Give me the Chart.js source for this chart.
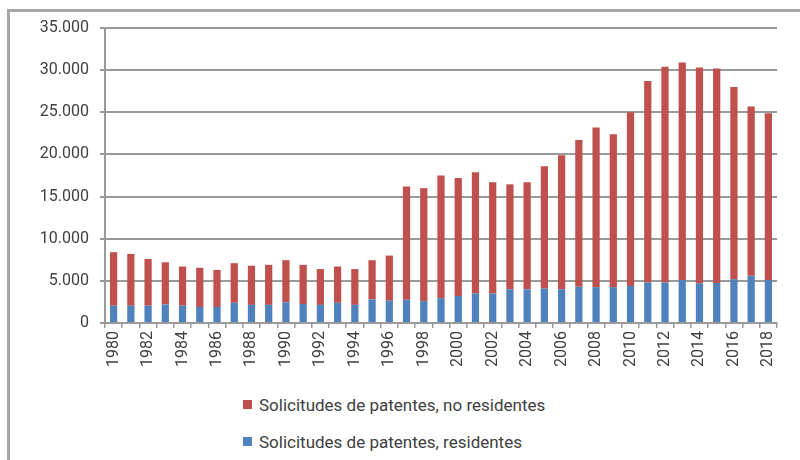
<!DOCTYPE html>
<html lang="es">
<head>
<meta charset="UTF-8">
<title>Solicitudes de patentes</title>
<script src="https://cdn.jsdelivr.net/npm/chart.js@4.4.0/dist/chart.umd.min.js"></script>
<style>
  body { margin: 0; background: #fff; width: 800px; height: 460px; overflow: hidden; position: relative; font-family: Roboto, sans-serif; }
  #frame { position: absolute; left: 7px; top: 9px; width: 820px; height: 480px; border-left: 3px solid #a6a6a6; border-top: 3px solid #a6a6a6; }
  #wrap { position: absolute; left: 0; top: 0; width: 800px; height: 385px; }
  #legend { position: absolute; left: 243px; top: 386px; font-size: 17px; color: #404040; }
  #legend div { height: 37px; display: flex; align-items: center; }
  #legend span.box { display: inline-block; width: 9px; height: 9px; margin-right: 7px; }
</style>
</head>
<body>
<div id="frame"></div>
<div id="wrap"><canvas id="chart" width="800" height="385"></canvas></div>
<div id="legend"></div>
<script>
// years on the x axis
const years = [1980, 1981, 1982, 1983, 1984, 1985, 1986, 1987, 1988, 1989,
  1990, 1991, 1992, 1993, 1994, 1995, 1996, 1997, 1998, 1999,
  2000, 2001, 2002, 2003, 2004, 2005, 2006, 2007, 2008, 2009,
  2010, 2011, 2012, 2013, 2014, 2015, 2016, 2017, 2018];

// patent applications, residents (bottom of each bar)
const residentes = [2050, 2050, 2050, 2200, 2050, 1900, 1900, 2400, 2150, 2150,
  2450, 2250, 2150, 2400, 2150, 2800, 2650, 2750, 2600, 2950,
  3200, 3500, 3500, 4000, 4000, 4100, 4000, 4300, 4250, 4250,
  4400, 4800, 4800, 5100, 4700, 4750, 5200, 5600, 5100];

// patent applications, non-residents (stacked on top)
const noResidentes = [6350, 6150, 5550, 5000, 4650, 4650, 4400, 4700, 4650, 4750,
  5000, 4650, 4250, 4300, 4250, 4650, 5350, 13450, 13400, 14550,
  14000, 14400, 13200, 12450, 12700, 14500, 15900, 17400, 18950, 18150,
  20600, 23900, 25600, 25800, 25600, 25450, 22800, 20100, 19800];

const yTicks = [0, 5000, 10000, 15000, 20000, 25000, 30000, 35000];

const RED = '#c0504d';
const BLUE = '#4f81bd';
const GRID = '#9a9a9a';
const TEXT = '#404040';

const fmt = v => String(v).replace(/\B(?=(\d{3})+(?!\d))/g, '.');

const chart = new Chart(document.getElementById('chart'), {
  type: 'bar',
  data: {
    labels: years,
    datasets: [
      { label: 'Solicitudes de patentes, residentes', data: residentes, backgroundColor: BLUE },
      { label: 'Solicitudes de patentes, no residentes', data: noResidentes, backgroundColor: RED }
    ]
  },
  options: {
    responsive: false,
    animation: false,
    layout: { padding: { left: 10, right: 23, top: 28, bottom: 0 } },
    datasets: { bar: { barPercentage: 0.42, categoryPercentage: 1 } },
    plugins: { legend: { display: false }, tooltip: { enabled: false } },
    scales: {
      x: {
        stacked: true,
        grid: { offset: true, drawOnChartArea: false, color: GRID, lineWidth: 1.5, tickLength: 5 },
        border: { color: GRID, width: 2 },
        ticks: {
          autoSkip: false, maxRotation: 90, minRotation: 90, padding: 3,
          color: TEXT, font: { family: 'Roboto', size: 16 },
          callback: (v, i) => (i % 2 === 0 ? String(years[i]) : '')
        },
        afterFit: s => { s.height = 62; }
      },
      y: {
        stacked: true,
        min: 0, max: 35000,
        afterBuildTicks: s => { s.ticks = yTicks.map(v => ({ value: v })); },
        grid: { color: GRID, lineWidth: 2, tickLength: 5 },
        border: { color: GRID, width: 2 },
        ticks: { color: TEXT, padding: 11, font: { family: 'Roboto', size: 16 }, callback: v => fmt(v) },
        afterFit: s => { s.width = 95; }
      }
    }
  }
});

// legend: non-residents first, then residents, stacked vertically
const legend = document.getElementById('legend');
[1, 0].forEach(i => {
  const ds = chart.data.datasets[i];
  const row = document.createElement('div');
  row.innerHTML = '<span class="box" style="background:' + ds.backgroundColor + '"></span>' + ds.label;
  legend.appendChild(row);
});
</script>
</body>
</html>
